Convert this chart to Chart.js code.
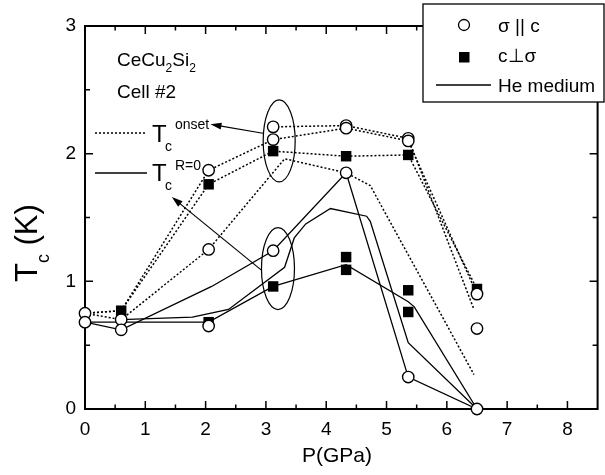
<!DOCTYPE html>
<html>
<head>
<meta charset="utf-8">
<script src="https://cdn.jsdelivr.net/npm/chart.js@4.4.0/dist/chart.umd.min.js"></script>
<style>
  html, body { margin: 0; padding: 0; background: #fff; }
  canvas { display: block; }
</style>
</head>
<body>
<canvas id="grafico" width="605" height="475"></canvas>
<script>
// axis ticks
const xTicks = [0, 1, 2, 3, 4, 5, 6, 7, 8];
const xMinor = [0.5, 1.5, 2.5, 3.5, 4.5, 5.5, 6.5, 7.5];
const yTicks = [0, 1, 2, 3];
const yMinor = [0.5, 1.5, 2.5];

// sigma || c  (open circles)
const circleP = [0, 0, 0.6, 0.6, 2.05, 2.05, 2.05, 3.12, 3.12, 3.12, 4.33, 4.33, 4.33, 5.36, 5.36, 5.36, 6.5, 6.5, 6.5];
const circleT = [0.75, 0.68, 0.70, 0.62, 1.87, 1.25, 0.65, 2.21, 2.11, 1.24, 2.22, 2.20, 1.85, 2.12, 2.10, 0.25, 0.90, 0.63, 0];

// c perp sigma  (filled squares)
const squareP = [0.6, 2.05, 2.05, 3.12, 3.12, 4.33, 4.33, 4.33, 5.36, 5.36, 5.36, 6.5];
const squareT = [0.77, 1.76, 0.68, 2.02, 0.96, 1.98, 1.19, 1.09, 1.99, 0.93, 0.76, 0.94];

// Tc onset curves (dotted)
const onsetAP = [0, 0.6, 2.05, 3.12, 4.33, 5.36, 6.5];
const onsetAT = [0.75, 0.77, 1.87, 2.11, 2.20, 2.10, 0.90];
const onsetBP = [0, 0.6, 2.05, 3.12, 4.33, 5.36, 6.5];
const onsetBT = [0.75, 0.77, 1.76, 2.02, 1.98, 1.99, 0.94];
const onsetCP = [3.12, 4.33, 5.36, 6.45];
const onsetCT = [2.21, 2.22, 2.12, 0.78];
const onsetHeP = [0, 0.6, 2.05, 3.31, 4.33, 4.73, 6.45];
const onsetHeT = [0.75, 0.70, 1.25, 1.96, 1.85, 1.75, 0.27];

// Tc R=0 curves (solid)
const zeroAP = [0, 0.6, 2.1, 3.12, 4.33, 5.36, 6.5];
const zeroAT = [0.68, 0.62, 0.96, 1.24, 1.85, 0.25, 0];
const zeroBP = [0, 2.05, 3.12, 4.33, 5.36, 5.46, 6.5];
const zeroBT = [0.68, 0.68, 0.96, 1.13, 0.84, 0.80, 0];
const zeroHeP = [0.6, 1.78, 2.38, 3.31, 3.47, 3.66, 4.07, 4.67, 4.73, 5.36, 6.5];
const zeroHeT = [0.70, 0.72, 0.78, 1.11, 1.34, 1.45, 1.57, 1.51, 1.47, 0.52, 0];

const FONT = '"Liberation Sans", Arial, Helvetica, sans-serif';

function pts(p, t) {
  return p.map((x, i) => ({ x: x, y: t[i] }));
}

function curve(p, t, dotted) {
  return {
    data: pts(p, t),
    showLine: true,
    borderColor: '#000',
    borderWidth: dotted ? 1.5 : 1.3,
    borderDash: dotted ? [2, 2] : [],
    pointRadius: 0,
    order: 2
  };
}

// write text made of pieces (sub/superscripts)
function richText(ctx, x, y, parts) {
  let cx = x;
  for (const p of parts) {
    ctx.font = p.size + 'px ' + FONT;
    ctx.fillText(p.t, cx, y + (p.dy || 0));
    cx += ctx.measureText(p.t).width;
  }
}

function arrow(ctx, x0, y0, x1, y1) {
  const ang = Math.atan2(y1 - y0, x1 - x0);
  ctx.beginPath();
  ctx.moveTo(x0, y0);
  ctx.lineTo(x1 - 8 * Math.cos(ang), y1 - 8 * Math.sin(ang));
  ctx.stroke();
  ctx.beginPath();
  ctx.moveTo(x1, y1);
  ctx.lineTo(x1 - 11 * Math.cos(ang) + 3.5 * Math.sin(ang), y1 - 11 * Math.sin(ang) - 3.5 * Math.cos(ang));
  ctx.lineTo(x1 - 11 * Math.cos(ang) - 3.5 * Math.sin(ang), y1 - 11 * Math.sin(ang) + 3.5 * Math.cos(ang));
  ctx.closePath();
  ctx.fill();
}

// frame, inner ticks, annotations, legend and axis titles
const moldura = {
  id: 'moldura',
  beforeDatasetsDraw(chart) {
    const { ctx, chartArea: a, scales: { x, y } } = chart;
    ctx.save();
    ctx.strokeStyle = '#000';
    ctx.lineWidth = 2;
    ctx.strokeRect(a.left, a.top, a.right - a.left, a.bottom - a.top);
    ctx.lineWidth = 1.5;
    ctx.beginPath();
    const tx = (v, len) => {
      const px = x.getPixelForValue(v);
      ctx.moveTo(px, a.bottom); ctx.lineTo(px, a.bottom - len);
      ctx.moveTo(px, a.top); ctx.lineTo(px, a.top + len);
    };
    const ty = (v, len) => {
      const py = y.getPixelForValue(v);
      ctx.moveTo(a.left, py); ctx.lineTo(a.left + len, py);
      ctx.moveTo(a.right, py); ctx.lineTo(a.right - len, py);
    };
    xTicks.forEach(v => tx(v, 8));
    xMinor.forEach(v => tx(v, 4.5));
    yTicks.forEach(v => ty(v, 8));
    yMinor.forEach(v => ty(v, 5));
    ctx.stroke();
    ctx.restore();
  },
  afterDraw(chart) {
    const { ctx, scales: { x, y } } = chart;
    const X = v => x.getPixelForValue(v);
    const Y = v => y.getPixelForValue(v);
    ctx.save();
    ctx.strokeStyle = '#000';
    ctx.fillStyle = '#000';
    ctx.lineWidth = 1.2;

    // ellipses around the 3.1 GPa points
    ctx.beginPath();
    ctx.ellipse(X(3.22), Y(2.10), 16, 41, 0, 0, 2 * Math.PI);
    ctx.stroke();
    ctx.beginPath();
    ctx.ellipse(X(3.20), Y(1.10), 16.5, 41, 0, 0, 2 * Math.PI);
    ctx.stroke();

    // arrows to the labels
    arrow(ctx, X(2.95), Y(2.16), X(2.08), Y(2.23));
    arrow(ctx, X(2.92), Y(1.09), X(1.44), Y(1.66));

    // sample labels
    ctx.textBaseline = 'alphabetic';
    ctx.textAlign = 'left';
    richText(ctx, 117, 66, [
      { t: 'CeCu', size: 19 }, { t: '2', size: 12, dy: 6 },
      { t: 'Si', size: 19 }, { t: '2', size: 12, dy: 6 }
    ]);
    richText(ctx, 117, 98, [{ t: 'Cell #2', size: 19 }]);

    // curve type keys
    ctx.lineWidth = 1.5;
    ctx.setLineDash([2, 2]);
    ctx.beginPath(); ctx.moveTo(95, 133); ctx.lineTo(145, 133); ctx.stroke();
    ctx.setLineDash([]);
    ctx.lineWidth = 1.3;
    ctx.beginPath(); ctx.moveTo(95, 173); ctx.lineTo(147, 173); ctx.stroke();
    richText(ctx, 152, 142, [{ t: 'T', size: 24 }]);
    richText(ctx, 165, 151, [{ t: 'c', size: 14 }]);
    richText(ctx, 175, 129, [{ t: 'onset', size: 14 }]);
    richText(ctx, 152, 181, [{ t: 'T', size: 24 }]);
    richText(ctx, 165, 190, [{ t: 'c', size: 14 }]);
    richText(ctx, 175, 170, [{ t: 'R=0', size: 14 }]);

    // legend box
    ctx.fillStyle = '#fff';
    ctx.fillRect(423, 4, 181, 98);
    ctx.lineWidth = 1.3;
    ctx.strokeRect(423, 4, 181, 98);
    ctx.beginPath();
    ctx.arc(464, 25, 5.5, 0, 2 * Math.PI);
    ctx.fill();
    ctx.stroke();
    ctx.fillStyle = '#000';
    ctx.fillRect(459, 52, 10.5, 10.5);
    ctx.beginPath(); ctx.moveTo(436, 85); ctx.lineTo(491, 85); ctx.stroke();
    richText(ctx, 498, 32, [{ t: 'σ || c', size: 19 }]);
    richText(ctx, 498, 62, [{ t: 'c⊥σ', size: 19 }]);
    richText(ctx, 498, 92, [{ t: 'He medium', size: 19 }]);

    // axis titles
    ctx.textAlign = 'center';
    ctx.font = '21px ' + FONT;
    ctx.fillText('P(GPa)', 337, 462);
    ctx.textAlign = 'left';
    ctx.translate(37, 282);
    ctx.rotate(-Math.PI / 2);
    richText(ctx, 0, 0, [
      { t: 'T', size: 31 }, { t: 'c', size: 18, dy: 12 }, { t: ' (K)', size: 31 }
    ]);
    ctx.restore();
  }
};

const ctx = document.getElementById('grafico').getContext('2d');
new Chart(ctx, {
  type: 'scatter',
  data: {
    datasets: [
      {
        data: pts(circleP, circleT),
        pointStyle: 'circle',
        pointRadius: 5.7,
        backgroundColor: '#fff',
        borderColor: '#000',
        borderWidth: 1.4,
        order: 1,
        clip: false
      },
      {
        data: pts(squareP, squareT),
        pointStyle: 'rect',
        pointRadius: 7.4,
        backgroundColor: '#000',
        borderColor: '#000',
        borderWidth: 0,
        order: 1,
        clip: false
      },
      curve(onsetAP, onsetAT, true),
      curve(onsetBP, onsetBT, true),
      curve(onsetCP, onsetCT, true),
      curve(onsetHeP, onsetHeT, true),
      curve(zeroAP, zeroAT, false),
      curve(zeroBP, zeroBT, false),
      curve(zeroHeP, zeroHeT, false)
    ]
  },
  options: {
    responsive: false,
    animation: false,
    devicePixelRatio: 1,
    layout: { padding: { left: 0, right: 3, top: 26, bottom: 0 } },
    plugins: { legend: { display: false }, tooltip: { enabled: false } },
    scales: {
      x: {
        type: 'linear',
        min: 0,
        max: 8.5,
        afterBuildTicks: s => { s.ticks = xTicks.map(v => ({ value: v })); },
        afterFit: s => { s.height = 66; },
        grid: { display: false, drawTicks: false },
        border: { display: false },
        ticks: { color: '#000', padding: 9, font: { family: FONT, size: 19 } }
      },
      y: {
        type: 'linear',
        min: 0,
        max: 3,
        afterBuildTicks: s => { s.ticks = yTicks.map(v => ({ value: v })); },
        afterFit: s => { s.width = 85; },
        grid: { display: false, drawTicks: false },
        border: { display: false },
        ticks: { color: '#000', padding: 9, font: { family: FONT, size: 19 } }
      }
    }
  },
  plugins: [moldura]
});
</script>
</body>
</html>
